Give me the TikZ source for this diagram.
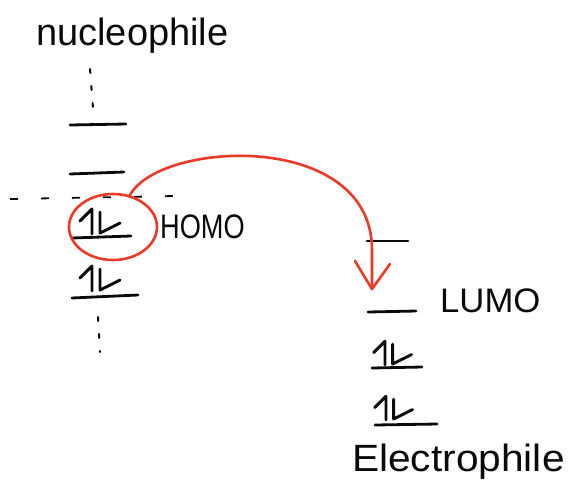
\documentclass[tikz,border=0pt]{standalone}
\usepackage{fontspec}
\setmainfont{Liberation Sans}
\usetikzlibrary{shapes.geometric}
\definecolor{ink}{RGB}{10,10,10}
\definecolor{pen}{RGB}{234,58,40}
\tikzset{
  level/.style={draw=ink, line width=2.8pt, line cap=round},
  hand/.style={draw=ink, line width=2.9pt, line cap=round, line join=round},
  dotline/.style={draw=ink, line width=2pt, line cap=round, dash pattern=on 4pt off 13pt},
  separator/.style={draw=ink, line width=1.8pt, dash pattern=on 8pt off 23pt},
  redpen/.style={draw=pen, line width=2.6pt, line cap=round, line join=round},
  label/.style={inner sep=0pt, text=ink},
  epair/.pic={
    % spin-up and spin-down half arrows
    \path[hand] (0,0) -- (0,-25) -- (-12,-13);
    \path[hand] (8,-22) -- (8,-1) -- (28,-11);
  }
}
\begin{document}
\begin{tikzpicture}[x=1pt,y=-1pt]
\fill[white] (0,0) rectangle (569,483);
\useasboundingbox (0,0) rectangle (569,483);

% nucleophile column
\node[label, anchor=base west, font=\fontsize{38}{40}\selectfont] (nuc) at (36,45) {nucleophile};
\path[dotline] (90,69) -- (93,108);
\path[level] (70,125) -- (126,124);
\path[level] (70,174) -- (124,172);
\path[separator] (10,199) -- (175,196);
\path[level] (72,238) -- (131,236);
\pic at (92,234) {epair};
\node[label, anchor=base west, xscale=0.8, font=\fontsize{34}{36}\selectfont] (homo) at (160,238) {HOMO};
\path[level] (72,298) -- (138,295);
\pic at (92,291) {epair};
\path[dotline] (98,317) -- (100,352);

% electrophile column
\path[level] (367,241) -- (408,241);
\path[level] (368,312) -- (416,311);
\node[label, anchor=base west, xscale=1.02, font=\fontsize{34}{36}\selectfont] (lumo) at (440,312) {LUMO};
\path[level] (372,368) -- (422,367);
\pic[scale=0.95] at (385,365) {epair};
\path[level] (375,425) -- (437,424);
\pic[scale=0.95] at (386,420) {epair};
\node[label, anchor=base west, xscale=1.07, font=\fontsize{38}{40}\selectfont] (elec) at (352,471) {Electrophile};

% HOMO ring and the donation arrow
\node[ellipse, redpen, minimum width=88pt, minimum height=66pt, inner sep=0pt] (ring) at (113,227) {};
\coordinate (tip) at (372,289);
\path[redpen] (ring.62) .. controls (160,140) and (372,130) .. (372,250) -- (tip);
\path[redpen] (355,261) -- (tip) -- (390,264);
\end{tikzpicture}
\end{document}
